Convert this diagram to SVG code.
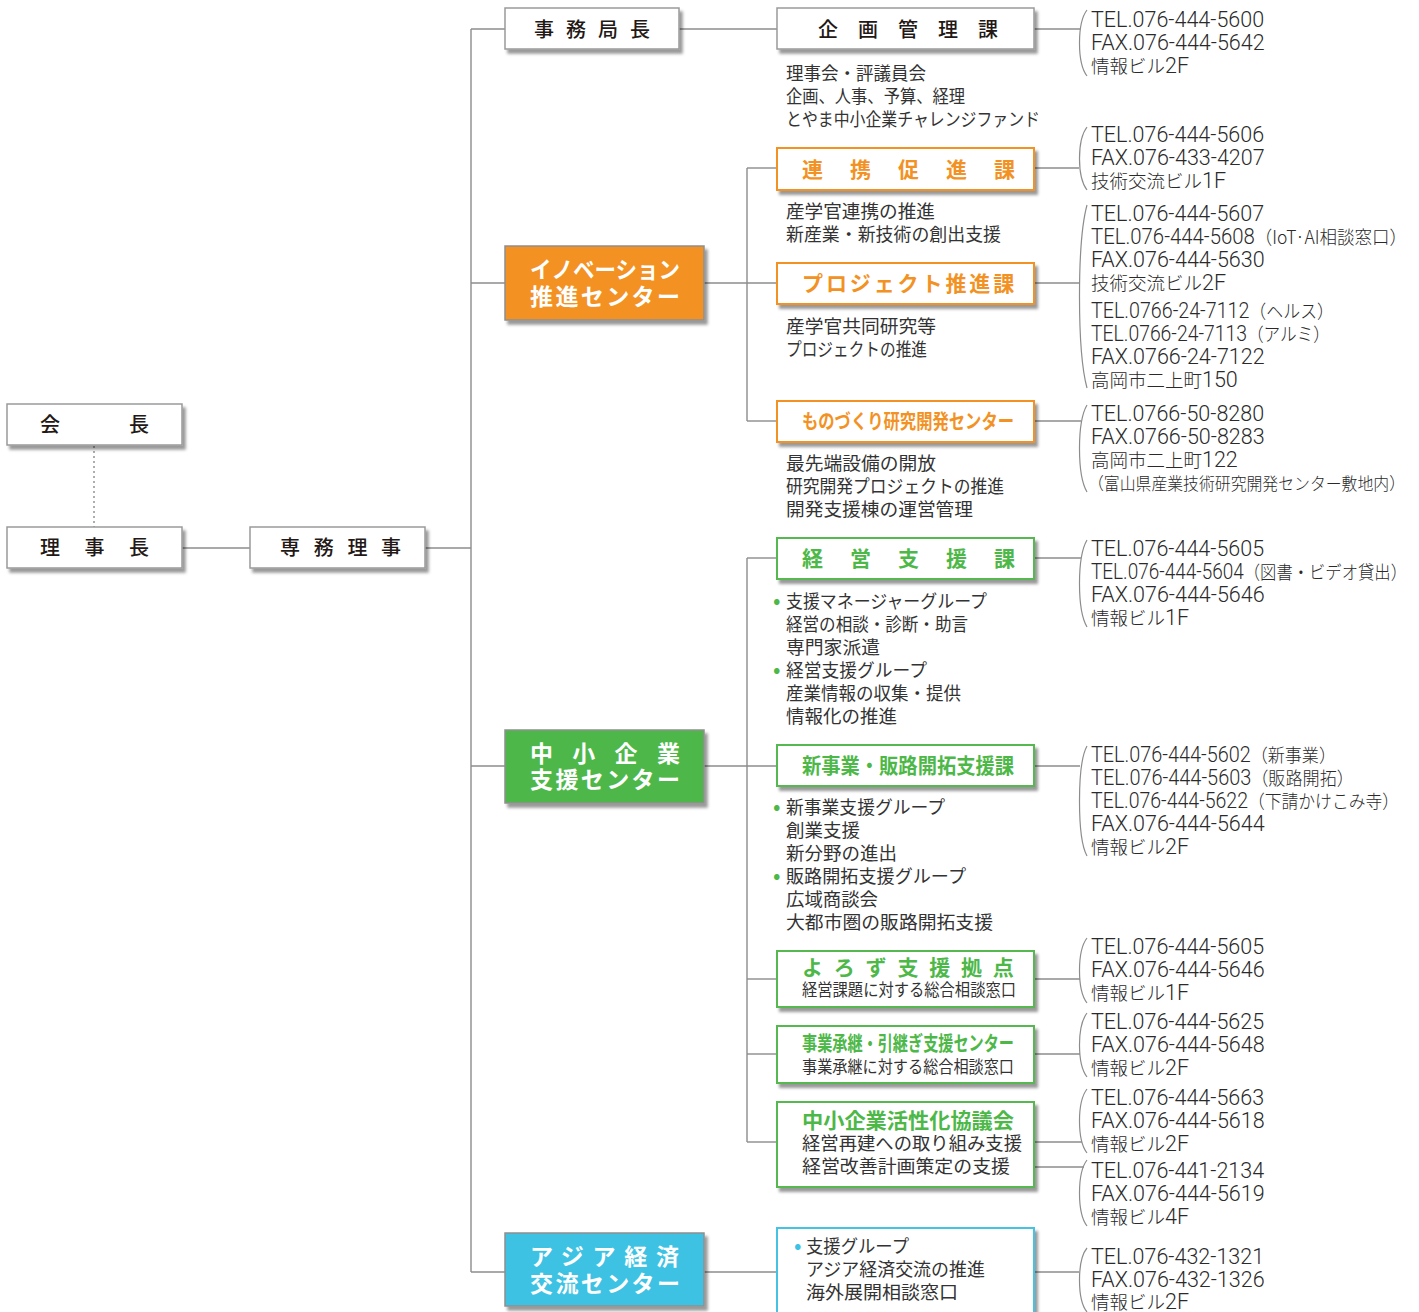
<svg xmlns="http://www.w3.org/2000/svg" width="1419" height="1312" viewBox="0 0 1419 1312">
<defs>
<filter id="sh" x="-10%" y="-20%" width="130%" height="160%">
<feDropShadow dx="3" dy="4" stdDeviation="1.6" flood-color="#000" flood-opacity="0.4"/>
</filter>
<style>
.bx{fill:#fff;stroke:#9a9a9a;stroke-width:1.5;filter:url(#sh)}
.bo{fill:#fff;stroke:#F39224;stroke-width:2;filter:url(#sh)}
.bg{fill:#fff;stroke:#55B94F;stroke-width:2;filter:url(#sh)}
.bc{fill:#fff;stroke:#45C3E3;stroke-width:2;filter:url(#sh)}
.fo{fill:#F39224;stroke:#8f8f8f;stroke-width:1.5;filter:url(#sh)}
.fg{fill:#4DB848;stroke:#8f8f8f;stroke-width:1.5;filter:url(#sh)}
.fc{fill:#3CC2E4;stroke:#8f8f8f;stroke-width:1.5;filter:url(#sh)}
.lbl{font-family:"Noto Sans CJK JP",sans-serif;font-size:20px;fill:#231815;font-weight:500}
.ol{fill:#F39224;font-weight:700;font-size:21px}
.gl{fill:#4DB848;font-weight:700;font-size:21px}
.wl{fill:#fff;font-weight:700;font-size:23px}
.d{font-family:"Noto Sans CJK JP",sans-serif;font-size:18px;fill:#333}
.sub{font-family:"Noto Sans CJK JP",sans-serif;font-size:16.5px;fill:#333}
.c{font-family:Roboto,"Liberation Sans","Noto Sans CJK JP",sans-serif;font-weight:300;font-size:21.5px;fill:#2a2a2a}
.j{font-family:"Noto Sans CJK JP",sans-serif;font-size:18.5px;font-weight:300}
.gb{fill:#4DB848;font-size:22px}
.cb{fill:#3CC2E4;font-size:22px}
.ln{stroke:#8c8c8c;stroke-width:1.4;fill:none}
.br{stroke:#8c8c8c;stroke-width:1.2;fill:none}
</style>
</defs>

<g id="connectors">
<line class="ln" x1="94" y1="446" x2="94" y2="527" stroke-dasharray="2,3"/>
<line class="ln" x1="182" y1="548" x2="250" y2="548"/>
<line class="ln" x1="425" y1="548" x2="471" y2="548"/>
<line class="ln" x1="471" y1="29" x2="471" y2="1272"/>
<line class="ln" x1="471" y1="29" x2="505" y2="29"/>
<line class="ln" x1="471" y1="283" x2="505" y2="283"/>
<line class="ln" x1="471" y1="766" x2="505" y2="766"/>
<line class="ln" x1="471" y1="1272" x2="505" y2="1272"/>
<line class="ln" x1="679" y1="29" x2="777" y2="29"/>
<line class="ln" x1="704" y1="283" x2="777" y2="283"/>
<line class="ln" x1="747" y1="168" x2="747" y2="421"/>
<line class="ln" x1="747" y1="168" x2="777" y2="168"/>
<line class="ln" x1="747" y1="421" x2="777" y2="421"/>
<line class="ln" x1="704" y1="766" x2="777" y2="766"/>
<line class="ln" x1="747" y1="558" x2="747" y2="1142"/>
<line class="ln" x1="747" y1="558" x2="777" y2="558"/>
<line class="ln" x1="747" y1="979" x2="777" y2="979"/>
<line class="ln" x1="747" y1="1054" x2="777" y2="1054"/>
<line class="ln" x1="747" y1="1142" x2="777" y2="1142"/>
<line class="ln" x1="704" y1="1272" x2="777" y2="1272"/>
<line class="ln" x1="1034" y1="29" x2="1080" y2="29"/>
<line class="ln" x1="1034" y1="168" x2="1079" y2="168"/>
<line class="ln" x1="1034" y1="283" x2="1079" y2="283"/>
<line class="ln" x1="1034" y1="421" x2="1081" y2="421"/>
<line class="ln" x1="1034" y1="558" x2="1081" y2="558"/>
<line class="ln" x1="1034" y1="766" x2="1080" y2="766"/>
<line class="ln" x1="1034" y1="979" x2="1080" y2="979"/>
<line class="ln" x1="1034" y1="1054" x2="1080" y2="1054"/>
<line class="ln" x1="1034" y1="1142" x2="1082" y2="1142"/>
<line class="ln" x1="1034" y1="1167" x2="1084" y2="1167"/>
<line class="ln" x1="1034" y1="1272" x2="1079" y2="1272"/>
<path class="br" d="M1087,10 C1077,23 1077,63 1087,76"/>
<path class="br" d="M1087,127 C1077,140 1077,177 1087,190"/>
<path class="br" d="M1087,205 C1077,242 1077,351 1087,388"/>
<path class="br" d="M1087,405 C1077,422 1077,475 1087,492"/>
<path class="br" d="M1087,540 C1077,557 1077,610 1087,627"/>
<path class="br" d="M1087,746 C1077,764 1077,838 1087,856"/>
<path class="br" d="M1087,938 C1077,951 1077,990 1087,1003"/>
<path class="br" d="M1087,1013 C1077,1026 1077,1064 1087,1077"/>
<path class="br" d="M1087,1089 C1077,1102 1077,1140 1087,1153"/>
<path class="br" d="M1087,1160 C1077,1173 1077,1213 1087,1226"/>
<path class="br" d="M1087,1248 C1077,1260 1077,1300 1087,1312"/>
</g>

<g id="kaicho">
<rect class="bx" x="7" y="404" width="175" height="41"/>
<text class="lbl" x="40" y="432" letter-spacing="69">会長</text>
</g>
<g id="rijicho">
<rect class="bx" x="7" y="527" width="175" height="41"/>
<text class="lbl" x="40" y="555" letter-spacing="24.5">理事長</text>
</g>
<g id="senmu">
<rect class="bx" x="250" y="527" width="175" height="41"/>
<text class="lbl" x="280" y="555" letter-spacing="13.7">専務理事</text>
</g>
<g id="jimukyokucho">
<rect class="bx" x="505" y="8" width="174" height="41"/>
<text class="lbl" x="534" y="37" letter-spacing="12">事務局長</text>
</g>
<g id="kikaku">
<rect class="bx" x="777" y="8" width="257" height="41"/>
<text class="lbl" x="818" y="37" letter-spacing="20">企画管理課</text>
<text class="d" x="786" y="80" textLength="140" lengthAdjust="spacingAndGlyphs">理事会・評議員会</text>
<text class="d" x="786" y="103" textLength="179" lengthAdjust="spacingAndGlyphs">企画、人事、予算、経理</text>
<text class="d" x="786" y="126" textLength="254" lengthAdjust="spacingAndGlyphs">とやま中小企業チャレンジファンド</text>
<text class="c" x="1091" y="27">TEL.076-444-5600</text>
<text class="c" x="1091" y="50">FAX.076-444-5642</text>
<text class="c" x="1091" y="73"><tspan class="j">情報ビル</tspan>2F</text>
</g>

<g id="innovation">
<rect class="fo" x="505" y="246" width="199" height="74"/>
<text class="lbl wl" x="530" y="278" textLength="150" lengthAdjust="spacingAndGlyphs">イノベーション</text>
<text class="lbl wl" x="530" y="305" letter-spacing="2.4">推進センター</text>
</g>
<g id="renkei">
<rect class="bo" x="777" y="148" width="257" height="42"/>
<text class="lbl ol" x="802" y="177" letter-spacing="27">連携促進課</text>
<text class="d" x="786" y="218" textLength="149" lengthAdjust="spacingAndGlyphs">産学官連携の推進</text>
<text class="d" x="786" y="241" textLength="215" lengthAdjust="spacingAndGlyphs">新産業・新技術の創出支援</text>
<text class="c" x="1091" y="142">TEL.076-444-5606</text>
<text class="c" x="1091" y="165">FAX.076-433-4207</text>
<text class="c" x="1091" y="188"><tspan class="j">技術交流ビル</tspan>1F</text>
</g>
<g id="project">
<rect class="bo" x="777" y="263" width="257" height="41"/>
<text class="lbl ol" x="802" y="291" letter-spacing="2.9">プロジェクト推進課</text>
<text class="d" x="786" y="333" textLength="150" lengthAdjust="spacingAndGlyphs">産学官共同研究等</text>
<text class="d" x="786" y="356" textLength="141" lengthAdjust="spacingAndGlyphs">プロジェクトの推進</text>
<text class="c" x="1091" y="221">TEL.076-444-5607</text>
<text class="c" x="1091" y="244" textLength="316" lengthAdjust="spacingAndGlyphs">TEL.076-444-5608<tspan class="j">（IoT·AI相談窓口）</tspan></text>
<text class="c" x="1091" y="267">FAX.076-444-5630</text>
<text class="c" x="1091" y="290"><tspan class="j">技術交流ビル</tspan>2F</text>
<text class="c" x="1091" y="318" textLength="243" lengthAdjust="spacingAndGlyphs">TEL.0766-24-7112<tspan class="j">（ヘルス）</tspan></text>
<text class="c" x="1091" y="341" textLength="239" lengthAdjust="spacingAndGlyphs">TEL.0766-24-7113<tspan class="j">（アルミ）</tspan></text>
<text class="c" x="1091" y="364">FAX.0766-24-7122</text>
<text class="c" x="1091" y="387"><tspan class="j">高岡市二上町</tspan>150</text>
</g>
<g id="monozukuri">
<rect class="bo" x="777" y="401" width="257" height="41"/>
<text class="lbl ol" x="802" y="429" textLength="212" lengthAdjust="spacingAndGlyphs" style="font-size:20px">ものづくり研究開発センター</text>
<text class="d" x="786" y="470" textLength="150" lengthAdjust="spacingAndGlyphs">最先端設備の開放</text>
<text class="d" x="786" y="493" textLength="218" lengthAdjust="spacingAndGlyphs">研究開発プロジェクトの推進</text>
<text class="d" x="786" y="516" textLength="187" lengthAdjust="spacingAndGlyphs">開発支援棟の運営管理</text>
<text class="c" x="1091" y="421">TEL.0766-50-8280</text>
<text class="c" x="1091" y="444">FAX.0766-50-8283</text>
<text class="c" x="1091" y="467"><tspan class="j">高岡市二上町</tspan>122</text>
<text class="c j" x="1088" y="490" textLength="317" lengthAdjust="spacingAndGlyphs" style="font-size:17px">（富山県産業技術研究開発センター敷地内）</text>
</g>

<g id="chusho">
<rect class="fg" x="505" y="730" width="199" height="73"/>
<text class="lbl wl" x="530" y="762" letter-spacing="19.3">中小企業</text>
<text class="lbl wl" x="530" y="788" letter-spacing="2.4">支援センター</text>
</g>
<g id="keiei">
<rect class="bg" x="777" y="538" width="257" height="41"/>
<text class="lbl gl" x="802" y="566" letter-spacing="27">経営支援課</text>
<text class="d" x="773" y="608"><tspan class="gb">•</tspan><tspan x="786" textLength="201" lengthAdjust="spacingAndGlyphs">支援マネージャーグループ</tspan></text>
<text class="d" x="786" y="631" textLength="182" lengthAdjust="spacingAndGlyphs">経営の相談・診断・助言</text>
<text class="d" x="786" y="654" textLength="94" lengthAdjust="spacingAndGlyphs">専門家派遣</text>
<text class="d" x="773" y="677"><tspan class="gb">•</tspan><tspan x="786" textLength="141" lengthAdjust="spacingAndGlyphs">経営支援グループ</tspan></text>
<text class="d" x="786" y="700" textLength="175" lengthAdjust="spacingAndGlyphs">産業情報の収集・提供</text>
<text class="d" x="786" y="723" textLength="111" lengthAdjust="spacingAndGlyphs">情報化の推進</text>
<text class="c" x="1091" y="556">TEL.076-444-5605</text>
<text class="c" x="1091" y="579" textLength="316" lengthAdjust="spacingAndGlyphs">TEL.076-444-5604<tspan class="j">（図書・ビデオ貸出）</tspan></text>
<text class="c" x="1091" y="602">FAX.076-444-5646</text>
<text class="c" x="1091" y="625"><tspan class="j">情報ビル</tspan>1F</text>
</g>
<g id="shinjigyo">
<rect class="bg" x="777" y="745" width="257" height="41"/>
<text class="lbl gl" x="802" y="773" textLength="212" lengthAdjust="spacingAndGlyphs">新事業・販路開拓支援課</text>
<text class="d" x="773" y="814"><tspan class="gb">•</tspan><tspan x="786" textLength="159" lengthAdjust="spacingAndGlyphs">新事業支援グループ</tspan></text>
<text class="d" x="786" y="837" textLength="74" lengthAdjust="spacingAndGlyphs">創業支援</text>
<text class="d" x="786" y="860" textLength="111" lengthAdjust="spacingAndGlyphs">新分野の進出</text>
<text class="d" x="773" y="883"><tspan class="gb">•</tspan><tspan x="786" textLength="180" lengthAdjust="spacingAndGlyphs">販路開拓支援グループ</tspan></text>
<text class="d" x="786" y="906" textLength="92" lengthAdjust="spacingAndGlyphs">広域商談会</text>
<text class="d" x="786" y="929" textLength="207" lengthAdjust="spacingAndGlyphs">大都市圏の販路開拓支援</text>
<text class="c" x="1091" y="762" textLength="245" lengthAdjust="spacingAndGlyphs">TEL.076-444-5602<tspan class="j">（新事業）</tspan></text>
<text class="c" x="1091" y="785" textLength="263" lengthAdjust="spacingAndGlyphs">TEL.076-444-5603<tspan class="j">（販路開拓）</tspan></text>
<text class="c" x="1091" y="808" textLength="308" lengthAdjust="spacingAndGlyphs">TEL.076-444-5622<tspan class="j">（下請かけこみ寺）</tspan></text>
<text class="c" x="1091" y="831">FAX.076-444-5644</text>
<text class="c" x="1091" y="854"><tspan class="j">情報ビル</tspan>2F</text>
</g>
<g id="yorozu">
<rect class="bg" x="777" y="951" width="257" height="56"/>
<text class="lbl gl" x="802" y="975" letter-spacing="10.8">よろず支援拠点</text>
<text class="sub" x="802" y="996" textLength="214" lengthAdjust="spacingAndGlyphs">経営課題に対する総合相談窓口</text>
<text class="c" x="1091" y="954">TEL.076-444-5605</text>
<text class="c" x="1091" y="977">FAX.076-444-5646</text>
<text class="c" x="1091" y="1000"><tspan class="j">情報ビル</tspan>1F</text>
</g>
<g id="shokei">
<rect class="bg" x="777" y="1026" width="257" height="57"/>
<text class="lbl gl" x="802" y="1051" textLength="212" lengthAdjust="spacingAndGlyphs" style="font-size:20px">事業承継・引継ぎ支援センター</text>
<text class="sub" x="802" y="1073" textLength="212" lengthAdjust="spacingAndGlyphs">事業承継に対する総合相談窓口</text>
<text class="c" x="1091" y="1029">TEL.076-444-5625</text>
<text class="c" x="1091" y="1052">FAX.076-444-5648</text>
<text class="c" x="1091" y="1075"><tspan class="j">情報ビル</tspan>2F</text>
</g>
<g id="kasseika">
<rect class="bg" x="777" y="1102" width="257" height="85"/>
<text class="lbl gl" x="802" y="1128" textLength="212" lengthAdjust="spacingAndGlyphs">中小企業活性化協議会</text>
<text class="d" x="802" y="1150" textLength="220" lengthAdjust="spacingAndGlyphs">経営再建への取り組み支援</text>
<text class="d" x="802" y="1173" textLength="208" lengthAdjust="spacingAndGlyphs">経営改善計画策定の支援</text>
<text class="c" x="1091" y="1105">TEL.076-444-5663</text>
<text class="c" x="1091" y="1128">FAX.076-444-5618</text>
<text class="c" x="1091" y="1151"><tspan class="j">情報ビル</tspan>2F</text>
<text class="c" x="1091" y="1178">TEL.076-441-2134</text>
<text class="c" x="1091" y="1201">FAX.076-444-5619</text>
<text class="c" x="1091" y="1224"><tspan class="j">情報ビル</tspan>4F</text>
</g>

<g id="asia">
<rect class="fc" x="505" y="1233" width="199" height="73"/>
<text class="lbl wl" x="530" y="1265" letter-spacing="8.75">アジア経済</text>
<text class="lbl wl" x="530" y="1292" letter-spacing="2.4">交流センター</text>
</g>
<g id="asia-shien">
<rect class="bc" x="777" y="1228" width="257" height="100"/>
<text class="d" x="794" y="1253"><tspan class="cb">•</tspan><tspan x="806" textLength="103" lengthAdjust="spacingAndGlyphs">支援グループ</tspan></text>
<text class="d" x="806" y="1276" textLength="179" lengthAdjust="spacingAndGlyphs">アジア経済交流の推進</text>
<text class="d" x="806" y="1299" textLength="152" lengthAdjust="spacingAndGlyphs">海外展開相談窓口</text>
<text class="c" x="1091" y="1264">TEL.076-432-1321</text>
<text class="c" x="1091" y="1287">FAX.076-432-1326</text>
<text class="c" x="1091" y="1309"><tspan class="j">情報ビル</tspan>2F</text>
</g>
</svg>
